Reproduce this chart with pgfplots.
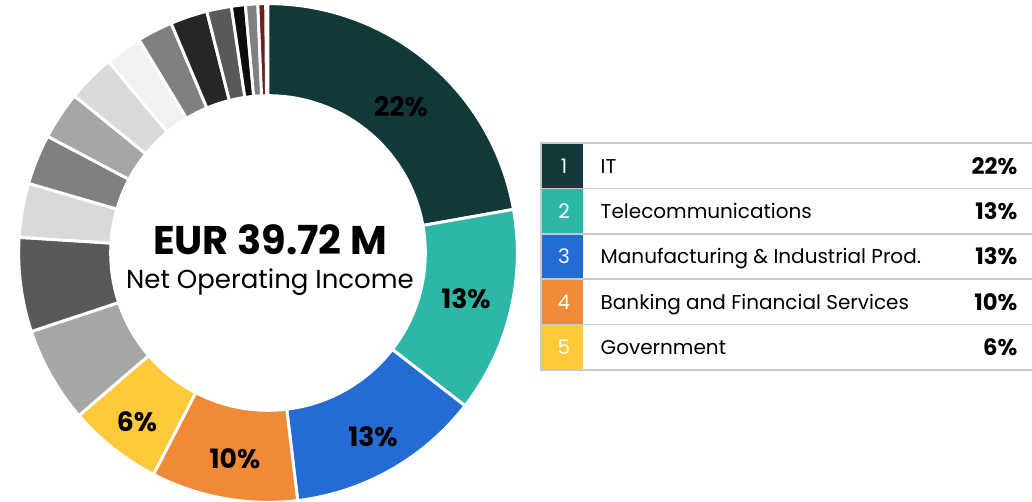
\documentclass[border=0pt]{standalone}
\usepackage{fontspec}
\setmainfont{Poppins}
\usepackage{pgfplots}
\usepackage{pgfplotstable}
\pgfplotsset{compat=1.18}

\definecolor{itc}{HTML}{12393A}
\definecolor{tel}{HTML}{2DB7A7}
\definecolor{man}{HTML}{246BD4}
\definecolor{bank}{HTML}{F08A37}
\definecolor{gov}{HTML}{FFC93C}
\definecolor{gA}{HTML}{A6A6A6}
\definecolor{gB}{HTML}{595959}
\definecolor{gC}{HTML}{D9D9D9}
\definecolor{gD}{HTML}{808080}
\definecolor{gE}{HTML}{F2F2F2}
\definecolor{gF}{HTML}{262626}
\definecolor{gG}{HTML}{0D0D0D}
\definecolor{brn}{HTML}{6B1E1A}
\definecolor{rule}{HTML}{C8C8C8}

% share of net operating income per sector, clockwise from 12 o'clock
\pgfplotstableread{
share col
22.2  itc
13.3  tel
12.6  man
9.5   bank
6.1   gov
6.2   gA
6.1   gB
3.5   gC
3.25  gD
3.1   gA
3.1   gC
2.4   gE
2.3   gD
2.4   gF
1.6   gB
0.9   gG
0.8   gD
0.5   brn
}\slices

\begin{document}
\begin{tikzpicture}
\begin{axis}[x=0.75pt,y=0.75pt,xmin=0,xmax=1032,ymin=0,ymax=502,
  hide axis,scale only axis,clip=false]
\coordinate (SW) at (axis cs:0,0);
\coordinate (NE) at (axis cs:1032,502);

% donut
\pgfmathsetmacro\cum{0}
\pgfplotsforeachungrouped \i in {0,...,17}{
  \pgfplotstablegetelem{\i}{share}\of\slices
  \let\sshare=\pgfplotsretval
  \pgfplotstablegetelem{\i}{col}\of\slices
  \let\scol=\pgfplotsretval
  \pgfmathsetmacro\sa{90-3.6*\cum}
  \pgfmathsetmacro\sb{90-3.6*(\cum+\sshare)}
  \edef\temp{\noexpand\fill[\scol,draw=white,line width=2.2pt]
    ([shift={(\sa:187pt)}]axis cs:268,249) arc[start angle=\sa,end angle=\sb,radius=187pt]
    -- ([shift={(\sb:118pt)}]axis cs:268,249) arc[start angle=\sb,end angle=\sa,radius=118pt] -- cycle;}
  \temp
  \pgfmathsetmacro\cum{\cum+\sshare}
}

\begin{scope}[every node/.style={font=\bfseries\fontsize{20}{22}\selectfont}]
\node at (axis cs:401,395) {22\%};
\node at (axis cs:466,203) {13\%};
\node at (axis cs:373,65) {13\%};
\node at (axis cs:235,43) {10\%};
\node at (axis cs:137,80) {6\%};
\end{scope}
\node[font=\bfseries\fontsize{30}{34}\selectfont] at (axis cs:270,262) {EUR 39.72 M};
\node[font=\fontsize{19.5}{23}\selectfont] at (axis cs:270,220) {Net Operating Income};

% legend table
\fill[itc]  (axis cs:541,359) rectangle (axis cs:583,313.6);
\fill[tel]  (axis cs:541,313.6) rectangle (axis cs:583,268.2);
\fill[man]  (axis cs:541,268.2) rectangle (axis cs:583,222.8);
\fill[bank] (axis cs:541,222.8) rectangle (axis cs:583,177.4);
\fill[gov]  (axis cs:541,177.4) rectangle (axis cs:583,132);
\draw[rule,line width=1.1pt] (axis cs:1032,359) -- (axis cs:541,359) -- (axis cs:541,132) -- (axis cs:1032,132);
\draw[rule,line width=1.1pt] (axis cs:541,313.6) -- (axis cs:1032,313.6);
\draw[rule,line width=1.1pt] (axis cs:541,268.2) -- (axis cs:1032,268.2);
\draw[rule,line width=1.1pt] (axis cs:541,222.8) -- (axis cs:1032,222.8);
\draw[rule,line width=1.1pt] (axis cs:541,177.4) -- (axis cs:1032,177.4);
\begin{scope}[every node/.style={font=\fontsize{15}{18}\selectfont,text height=10.5pt,text depth=0pt}]
\node[white] at (axis cs:564,335.8) {1};
\node[white] at (axis cs:564,290.4) {2};
\node[white] at (axis cs:564,245.0) {3};
\node[white] at (axis cs:564,199.6) {4};
\node[white] at (axis cs:564,154.2) {5};
\node[anchor=west] at (axis cs:596,335.8) {IT};
\node[anchor=west] at (axis cs:596,290.4) {Telecommunications};
\node[anchor=west] at (axis cs:596,245.0) {Manufacturing \& Industrial Prod.};
\node[anchor=west] at (axis cs:596,199.6) {Banking and Financial Services};
\node[anchor=west] at (axis cs:596,154.2) {Government};
\end{scope}
\begin{scope}[every node/.style={anchor=east,font=\bfseries\fontsize{17}{20}\selectfont,text height=12pt,text depth=0pt}]
\node at (axis cs:1022,335.8) {22\%};
\node at (axis cs:1022,290.4) {13\%};
\node at (axis cs:1022,245.0) {13\%};
\node at (axis cs:1022,199.6) {10\%};
\node at (axis cs:1022,154.2) {6\%};
\end{scope}
\end{axis}
\pgfresetboundingbox
\path[use as bounding box] (SW) rectangle (NE);
\end{tikzpicture}
\end{document}
